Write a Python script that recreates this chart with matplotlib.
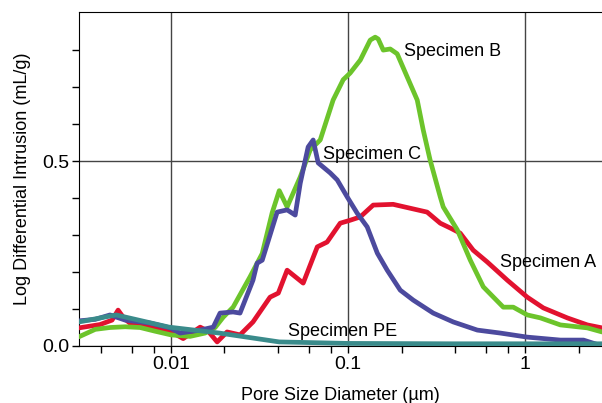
import numpy as np
import matplotlib.pyplot as plt
from matplotlib.ticker import FixedLocator, NullFormatter

plt.rcParams['font.family'] = ['Liberation Sans', 'DejaVu Sans']

# pore size diameter (um) and log differential intrusion (mL/g)
a_x = [0.00302, 0.00397, 0.00464, 0.00502, 0.00542, 0.00602, 0.0076, 0.00987, 0.0117, 0.01459,
       0.0162, 0.0182, 0.0207, 0.0245, 0.029, 0.0362, 0.0403, 0.0452, 0.0557, 0.0669,
       0.076, 0.0901, 0.1026, 0.117, 0.1384, 0.1794, 0.279, 0.331, 0.377, 0.429,
       0.508, 0.610, 0.791, 1.026, 1.264, 1.726, 2.24, 2.71]
a_y = [0.049, 0.058, 0.07, 0.097, 0.075, 0.057, 0.052, 0.04, 0.02, 0.051,
       0.04, 0.011, 0.038, 0.03, 0.065, 0.132, 0.143, 0.205, 0.17, 0.268,
       0.281, 0.332, 0.34, 0.349, 0.381, 0.383, 0.362, 0.332, 0.319, 0.305,
       0.259, 0.227, 0.178, 0.132, 0.103, 0.076, 0.057, 0.049]

b_x = [0.00302, 0.00373, 0.00452, 0.0055, 0.00668, 0.00812, 0.01, 0.0128, 0.01556, 0.01773,
       0.0197, 0.0224, 0.0279, 0.0327, 0.0372, 0.0408, 0.0452, 0.0536, 0.0610, 0.0695,
       0.0822, 0.0937, 0.1026, 0.117, 0.1331, 0.142, 0.1477, 0.1577, 0.1727, 0.189,
       0.2155, 0.2453, 0.2652, 0.290, 0.331, 0.344, 0.413, 0.489, 0.579, 0.751,
       0.855, 1.026, 1.216, 1.577, 2.24, 2.71]
b_y = [0.025, 0.045, 0.05, 0.052, 0.05, 0.04, 0.03, 0.026, 0.035, 0.05,
       0.078, 0.105, 0.187, 0.25, 0.36, 0.42, 0.376, 0.457, 0.53, 0.557,
       0.665, 0.72, 0.738, 0.773, 0.827, 0.835, 0.83, 0.80, 0.803, 0.79,
       0.727, 0.665, 0.584, 0.503, 0.403, 0.376, 0.314, 0.232, 0.16, 0.105,
       0.105, 0.084, 0.076, 0.057, 0.049, 0.038]

c_x = [0.00302, 0.00373, 0.00452, 0.0055, 0.0076, 0.00987, 0.01124, 0.01459, 0.0173, 0.0189,
       0.0224, 0.0245, 0.029, 0.0306, 0.0327, 0.0397, 0.0452, 0.0502, 0.0536, 0.0594,
       0.0634, 0.0677, 0.0791, 0.0867, 0.0987, 0.1124, 0.128, 0.146, 0.166, 0.1967,
       0.233, 0.302, 0.392, 0.536, 0.722, 1.026, 1.577, 2.13, 2.71]
c_y = [0.068, 0.072, 0.084, 0.07, 0.062, 0.049, 0.035, 0.043, 0.051, 0.089,
       0.092, 0.089, 0.178, 0.224, 0.232, 0.362, 0.368, 0.354, 0.44, 0.538,
       0.557, 0.495, 0.468, 0.449, 0.403, 0.359, 0.322, 0.251, 0.205, 0.151,
       0.124, 0.089, 0.065, 0.043, 0.035, 0.024, 0.016, 0.016, 0.0]

pe_x = [0.00302, 0.00489, 0.00974, 0.0187, 0.0408, 0.1, 0.377, 1.0, 2.71]
pe_y = [0.065, 0.084, 0.051, 0.035, 0.011, 0.007, 0.006, 0.006, 0.006]

fig = plt.figure(figsize=(6.02, 4.03), dpi=100)
ax = fig.add_axes([79/602, 1 - 346/403, 523/602, 334/403])

ax.plot(a_x, a_y, color='#e2122f', lw=3.4, solid_capstyle='round', zorder=3)
ax.plot(b_x, b_y, color='#6cc42b', lw=3.4, solid_capstyle='round', zorder=4)
ax.plot(c_x, c_y, color='#4c4a9e', lw=3.4, solid_capstyle='round', zorder=5)
ax.plot(pe_x, pe_y, color='#3a8b8b', lw=3.4, solid_capstyle='round', zorder=6)

ax.set_xscale('log')
ax.set_xlim(0.00302, 2.71)
ax.set_ylim(0, 0.903)

ax.xaxis.set_major_locator(FixedLocator([0.01, 0.1, 1]))
ax.set_xticklabels(['0.01', '0.1', '1'])
minors = [m * 10.0**e for e in range(-3, 1) for m in (2, 4, 6, 8)]
ax.xaxis.set_minor_locator(FixedLocator(minors))
ax.xaxis.set_minor_formatter(NullFormatter())
ax.yaxis.set_major_locator(FixedLocator([0.0, 0.5]))
ax.set_yticklabels(['0.0', '0.5'])
ax.yaxis.set_minor_locator(FixedLocator([0.1, 0.2, 0.3, 0.4, 0.6, 0.7, 0.8]))

ax.tick_params(which='both', direction='out', length=5, width=1, labelsize=14, pad=2)
ax.grid(True, which='major', color='#444444', lw=1)
ax.spines['right'].set_visible(False)

ax.set_xlabel('Pore Size Diameter (µm)', fontsize=13, labelpad=10)
ax.set_ylabel('Log Differential Intrusion (mL/g)', fontsize=13, labelpad=8)

ax.text(0.207, 0.795, 'Specimen B', fontsize=13, va='center', zorder=7)
ax.text(0.0723, 0.519, 'Specimen C', fontsize=13, va='center', zorder=7)
ax.text(0.722, 0.227, 'Specimen A', fontsize=13, va='center', zorder=7)
ax.text(0.0458, 0.0405, 'Specimen PE', fontsize=13, va='center', zorder=7)

fig.savefig('out.png', dpi=100)
